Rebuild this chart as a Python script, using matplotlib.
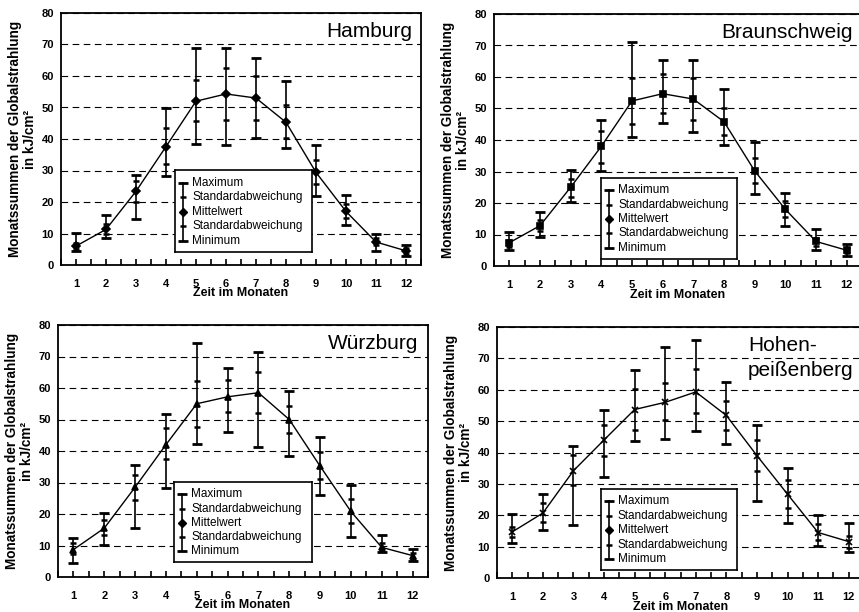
import matplotlib
matplotlib.use('Agg')
import matplotlib.pyplot as plt

plt.rcParams['font.family'] = ['Liberation Sans', 'DejaVu Sans']

months = list(range(1, 13))
month_labels = [str(m) for m in months]
y_ticks = [0, 10, 20, 30, 40, 50, 60, 70, 80]

# Hamburg
hh_max = [10.3, 16.0, 28.7, 49.8, 68.9, 68.9, 65.7, 58.5, 38.1, 22.2, 10.0, 6.5]
hh_sd_hi = [7.0, 13.0, 26.8, 43.4, 58.8, 62.6, 59.9, 50.7, 33.2, 19.4, 8.5, 5.5]
hh_mean = [6.0, 11.3, 23.4, 37.6, 52.0, 54.3, 53.0, 45.3, 29.4, 17.0, 7.3, 4.5]
hh_sd_lo = [5.0, 9.7, 20.0, 32.2, 45.6, 46.0, 46.1, 40.3, 25.8, 15.0, 6.2, 3.5]
hh_min = [4.3, 8.7, 14.7, 28.3, 38.5, 38.2, 40.2, 37.0, 21.8, 12.7, 4.6, 2.7]

# Braunschweig
bs_max = [10.7, 17.0, 30.5, 46.3, 71.0, 65.5, 65.5, 56.3, 39.5, 23.2, 11.6, 7.0]
bs_sd_hi = [8.3, 14.5, 27.7, 43.0, 59.8, 61.0, 59.8, 50.3, 34.3, 20.5, 9.0, 5.8]
bs_mean = [7.4, 12.8, 25.0, 38.0, 52.4, 54.7, 53.0, 45.8, 30.2, 18.0, 7.8, 5.0]
bs_sd_lo = [6.0, 11.0, 22.0, 32.8, 45.2, 48.6, 46.3, 41.6, 26.5, 15.5, 6.5, 4.0]
bs_min = [5.0, 9.3, 20.3, 30.2, 41.0, 45.3, 42.5, 38.3, 23.0, 12.6, 5.2, 3.2]

# Wuerzburg
wu_max = [12.5, 20.3, 35.4, 51.7, 74.2, 66.3, 71.5, 59.0, 44.4, 29.2, 13.2, 8.8]
wu_sd_hi = [10.7, 18.0, 32.5, 47.2, 62.3, 62.6, 65.2, 54.2, 39.7, 24.8, 10.8, 7.7]
wu_mean = [8.7, 15.5, 28.5, 42.0, 55.0, 57.2, 58.5, 50.0, 35.2, 20.8, 9.4, 6.8]
wu_sd_lo = [7.3, 13.3, 24.5, 37.4, 47.5, 52.3, 52.0, 45.6, 31.2, 17.3, 8.4, 5.8]
wu_min = [4.4, 10.3, 15.4, 28.2, 42.3, 46.0, 41.4, 38.3, 26.0, 12.6, 8.0, 5.2]

# Hohenpeissenberg
hp_max = [20.5, 26.8, 42.0, 53.5, 66.3, 73.5, 76.0, 62.5, 48.8, 35.0, 20.2, 17.5]
hp_sd_hi = [16.3, 23.8, 39.2, 48.8, 60.2, 62.2, 66.5, 56.5, 44.0, 31.2, 17.3, 13.5]
hp_mean = [14.7, 20.7, 34.2, 44.0, 53.7, 56.0, 59.3, 51.8, 39.0, 26.7, 14.5, 11.6]
hp_sd_lo = [13.0, 17.7, 29.5, 39.0, 47.2, 50.2, 52.5, 47.2, 34.0, 22.2, 12.2, 9.7]
hp_min = [11.2, 15.3, 17.0, 32.2, 43.7, 44.3, 46.7, 42.7, 24.5, 17.5, 10.2, 8.3]

legend_labels = ['Maximum', 'Standardabweichung', 'Mittelwert',
                 'Standardabweichung', 'Minimum']

W, H = 859, 612
fig = plt.figure(figsize=(W / 100, H / 100), dpi=100)


def px_rect(l, r, b, t):
    return [l / W, 1 - b / H, (r - l) / W, (b - t) / H]


panels = [
    dict(rect=px_rect(61, 421, 265, 13), name='Hamburg', marker='D', ms=4,
         data=(hh_max, hh_sd_hi, hh_mean, hh_sd_lo, hh_min),
         leg=(0.317, 0.052, 0.697, 0.377), title_xy=(0.975, 0.925), ha='right'),
    dict(rect=px_rect(494, 862, 266, 14), name='Braunschweig', marker='s', ms=4.5,
         data=(bs_max, bs_sd_hi, bs_mean, bs_sd_lo, bs_min),
         leg=(0.291, 0.028, 0.659, 0.350), title_xy=(0.975, 0.925), ha='right'),
    dict(rect=px_rect(58, 428, 577, 325), name='Würzburg', marker='^', ms=5,
         data=(wu_max, wu_sd_hi, wu_mean, wu_sd_lo, wu_min),
         leg=(0.314, 0.060, 0.686, 0.377), title_xy=(0.975, 0.925), ha='right'),
    dict(rect=px_rect(497, 864, 578, 327), name='Hohen-\npeißenberg', marker='x', ms=5,
         data=(hp_max, hp_sd_hi, hp_mean, hp_sd_lo, hp_min),
         leg=(0.283, 0.032, 0.653, 0.355), title_xy=(0.684, 0.876), ha='left'),
]

for p in panels:
    ax = fig.add_axes(p['rect'])
    mx, sdh, mean, sdl, mn = p['data']
    ax.set_xlim(0.5, 12.5)
    ax.set_ylim(0, 80)
    ax.set_yticks(y_ticks)
    ax.set_yticklabels([str(v) for v in y_ticks], fontsize=8, fontweight='bold')
    ax.set_xticks(months)
    ax.set_xticklabels(month_labels, fontsize=8, fontweight='bold')
    ax.set_xticks([m + 0.5 for m in range(0, 13)], minor=True)
    ax.tick_params(axis='y', length=0, pad=5)
    ax.tick_params(axis='x', which='major', direction='in', length=4, width=1.2, pad=10)
    ax.tick_params(axis='x', which='minor', direction='in', length=4, width=1.2)
    for s in ax.spines.values():
        s.set_linewidth(1.3)
        s.set_color('black')
    ax.yaxis.grid(True, linestyle=(0, (6, 4)), color='black', linewidth=0.8)
    ax.set_axisbelow(True)

    ax.vlines(months, mn, mx, color='black', lw=1.2, zorder=3)
    ax.plot(months, mx, ls='none', marker='_', ms=7, mew=2, color='black', zorder=4)
    ax.plot(months, mn, ls='none', marker='_', ms=7, mew=2, color='black', zorder=4)
    ax.plot(months, sdh, ls='none', marker='_', ms=4.5, mew=1.8, color='black', zorder=4)
    ax.plot(months, sdl, ls='none', marker='_', ms=4.5, mew=1.8, color='black', zorder=4)
    ax.plot(months, mean, '-', color='black', lw=1.0, marker=p['marker'],
            ms=p['ms'], mew=1.2, zorder=5)

    ax.set_xlabel('Zeit im Monaten', fontsize=9, fontweight='bold', labelpad=-1)
    ax.set_ylabel('Monatssummen der Globalstrahlung\nin kJ/cm²', fontsize=9.8,
                  fontweight='bold', labelpad=3, linespacing=1.15)

    tx, ty = p['title_xy']
    ax.text(tx, ty, p['name'], transform=ax.transAxes, ha=p['ha'], va='center',
            fontsize=15, linespacing=1.4, zorder=6)

    # legend box
    x0, y0, x1, y1 = p['leg']
    lax = ax.inset_axes([x0, y0, x1 - x0, y1 - y0])
    lax.set_zorder(10)
    lax.set_xlim(0, 1)
    lax.set_ylim(0, 1)
    lax.set_xticks([])
    lax.set_yticks([])
    for s in lax.spines.values():
        s.set_linewidth(1.2)
    ly = [0.845, 0.668, 0.491, 0.314, 0.137]
    sx = 0.06
    lax.plot([sx, sx], [ly[0], ly[-1]], color='black', lw=1.2)
    lax.plot([sx, sx], [ly[0], ly[-1]], ls='none', marker='_', ms=7, mew=2, color='black')
    lax.plot([sx, sx], [ly[1], ly[3]], ls='none', marker='_', ms=4.5, mew=1.8, color='black')
    lax.plot([sx], [ly[2]], ls='none', marker='D', ms=4, color='black')
    for yy, lab in zip(ly, legend_labels):
        lax.text(0.125, yy, lab, fontsize=8.5, va='center', ha='left')

fig.savefig('out.png', dpi=100)
